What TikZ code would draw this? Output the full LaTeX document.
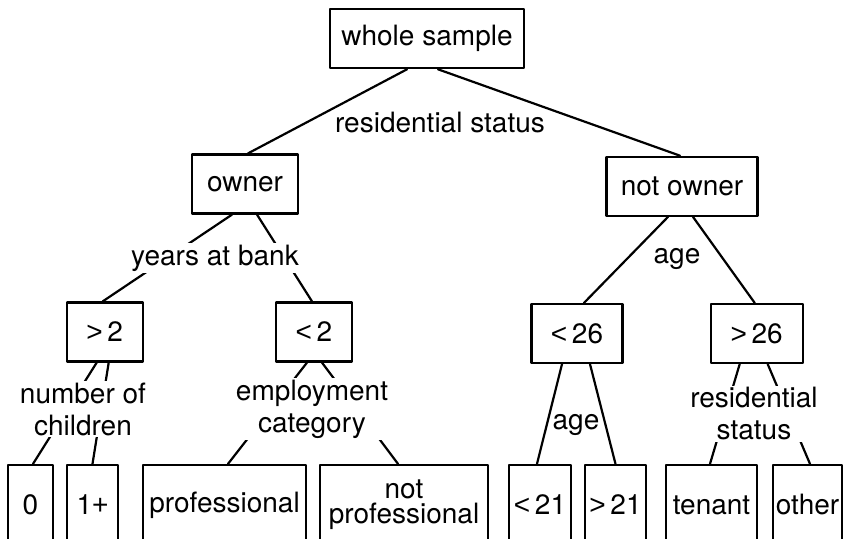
\documentclass[tikz,border=0pt]{standalone}
\usepackage{fontspec}
\setmainfont{TeX Gyre Heros}
\newfontfamily\relfont{Liberation Sans}
\usepackage{tikz}
\usetikzlibrary{calc}
\newcommand{\gtsign}{{\relfont >}}
\newcommand{\ltsign}{{\relfont <}}
\tikzset{
    every picture/.style={line cap=round,line join=round},
    treebox/.style={draw=black,line width=1.1pt,inner sep=0pt,
      minimum height=29.5pt,align=center},
    leafbox/.style={treebox,minimum height=40pt},
    branch/.style={draw=black,line width=1.1pt},
    splitlabel/.style={fill=white,inner xsep=1.5pt,inner ysep=1pt,
      align=center}
}

\begin{document}
\begin{tikzpicture}[x=0.5pt,y=-0.5pt,font=\fontsize{14}{16}\selectfont]
  \useasboundingbox (0,0) rectangle (848,539);
  \clip (0,0) rectangle (848,539);

  % boxes
  \node[treebox,minimum width=97pt]   (whole)    at (427,38.7)  {whole sample};
  \node[treebox,minimum width=53pt]   (owner)    at (245,184)   {owner};
  \node[treebox,minimum width=75.5pt] (notowner) at (682,186.3) {not owner};
  \node[treebox,minimum width=38pt]   (gt2)      at (104.7,332) {\gtsign\,2};
  \node[treebox,minimum width=38pt]   (lt2)      at (314,332)   {\ltsign\,2};
  \node[treebox,minimum width=45.5pt] (lt26)     at (577,333.5) {\ltsign\,26};
  \node[treebox,minimum width=46pt]   (gt26)     at (756.7,333.5) {\gtsign\,26};

  % leaves, cut off by the bottom edge
  \node[leafbox,minimum width=22.5pt] (none)     at (30.5,505)  {0};
  \node[leafbox,minimum width=25.5pt] (some)     at (92.5,505)  {1{\relfont +}};
  \node[leafbox,minimum width=81.5pt] (prof)     at (224.5,505) {professional};
  \node[leafbox,minimum width=84pt,font=\fontsize{14}{12.5}\selectfont]
                                      (notprof)  at (404,505)   {not\\professional};
  \node[leafbox,minimum width=31pt]   (lt21)     at (540,505)   {\ltsign\,21};
  \node[leafbox,minimum width=30.5pt] (gt21)     at (615.5,505) {\gtsign\,21};
  \node[leafbox,minimum width=45.5pt] (tenant)   at (711.5,505) {tenant};
  \node[leafbox,minimum width=34.5pt] (other)    at (807.5,505) {other};

  \foreach \from/\dx/\to/\dy in {whole/-20/owner/3, whole/11/notowner/-2,
      owner/-13/gt2/-2, owner/12/lt2/-2,
      notowner/-14/lt26/7, notowner/11/gt26/-2,
      gt2/-8/none/2.5, gt2/4/some/0,
      lt2/-7/prof/3.5, lt2/8/notprof/-6,
      lt26/-15/lt21/-3, lt26/13/gt21/0,
      gt26/-17/tenant/-1.5, gt26/11/other/2.5}
    \draw[branch] ($(\from.south)+(\dx,0)$) -- ($(\to.north)+(\dy,0)$);

  % split variables
  \node[splitlabel] (lres)   at (440,123)  {residential status};
  \node[splitlabel] (lyears) at (215,258)  {years at bank};
  \node[splitlabel] (lage)   at (677,259)  {age};
  \node[splitlabel] (lchild) at (83,409)   {number of\\children};
  \node[splitlabel] (lemp)   at (312,409)  {employment\\category};
  \node[splitlabel,inner xsep=0.5pt] (lage2) at (576,425) {age};
  \node[splitlabel] (lres2)  at (754,414)  {residential\\status};
\end{tikzpicture}
\end{document}
